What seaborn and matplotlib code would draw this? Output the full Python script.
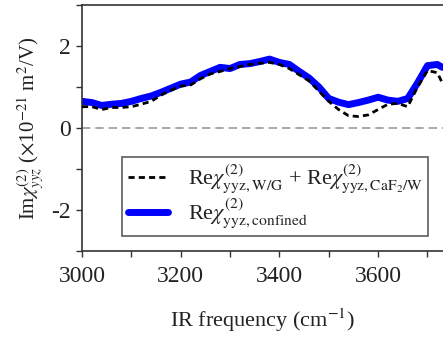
import numpy as np
import pandas as pd
import matplotlib
matplotlib.use("Agg")
import matplotlib.pyplot as plt
import seaborn as sns

# --- data ---
freq = [3000, 3020, 3040, 3060, 3080, 3100, 3120, 3140, 3160, 3180, 3200, 3220,
        3240, 3260, 3280, 3300, 3320, 3340, 3360, 3380, 3400, 3420, 3440, 3460,
        3480, 3500, 3520, 3540, 3560, 3580, 3600, 3620, 3640, 3660, 3680, 3700,
        3720, 3730]
confined = [0.65, 0.62, 0.55, 0.58, 0.60, 0.65, 0.72, 0.78, 0.87, 0.97, 1.07, 1.12,
            1.28, 1.38, 1.48, 1.45, 1.55, 1.57, 1.62, 1.68, 1.60, 1.55, 1.38, 1.22,
            1.00, 0.72, 0.63, 0.57, 0.62, 0.68, 0.75, 0.68, 0.65, 0.72, 1.10, 1.52,
            1.55, 1.48]
wg_caf2 = [0.52, 0.52, 0.45, 0.50, 0.50, 0.52, 0.58, 0.65, 0.80, 0.92, 1.02, 1.05,
           1.20, 1.32, 1.38, 1.45, 1.50, 1.55, 1.58, 1.60, 1.55, 1.45, 1.30, 1.15,
           0.90, 0.65, 0.45, 0.30, 0.28, 0.32, 0.45, 0.58, 0.60, 0.52, 1.00, 1.40,
           1.35, 1.10]

label_sum = (r"Re$\chi^{(2)}_{\mathrm{yyz,W/G}}$ + "
             r"Re$\chi^{(2)}_{\mathrm{yyz,CaF_2/W}}$")
label_conf = r"Re$\chi^{(2)}_{\mathrm{yyz,confined}}$"

df_sum = pd.DataFrame({"freq": freq, "val": wg_caf2})
df_conf = pd.DataFrame({"freq": freq, "val": confined})

sns.set_style("ticks")
plt.rcParams["font.family"] = ["Liberation Serif", "DejaVu Serif"]
plt.rcParams["mathtext.fontset"] = "stix"
plt.rcParams["axes.unicode_minus"] = False

fig = plt.figure(figsize=(4.43, 3.38), dpi=100)
ax = fig.add_axes([82 / 443, 1 - 251 / 338, 361 / 443, 246 / 338])

ax.axhline(0, color="#999999", lw=1.2, ls=(0, (5, 3)), zorder=1)

sns.lineplot(data=df_sum, x="freq", y="val", ax=ax, color="black", lw=2.0,
             ls=(0, (2.2, 1.5)), label=label_sum, zorder=3)
sns.lineplot(data=df_conf, x="freq", y="val", ax=ax, color="#0000ff", lw=5,
             solid_capstyle="round", label=label_conf, zorder=2)
for l in ax.get_lines():
    if l.get_color() == "black":
        l.set_zorder(4)

ax.set_xlim(3000, 3731.5)
ax.set_ylim(-3, 3)
ax.set_xticks([3000, 3200, 3400, 3600])
ax.set_xticks(np.arange(3100, 3800, 200), minor=True)
ax.set_yticks([-2, 0, 2])
ax.set_yticks([-3, -1, 1, 3], minor=True)

for s in ["left", "top", "bottom"]:
    ax.spines[s].set_color("#333333")
    ax.spines[s].set_linewidth(1.2)
ax.spines["right"].set_visible(False)

ax.tick_params(axis="both", which="both", direction="out", length=4.5,
               width=1.0, color="#333333", labelsize=17, labelcolor="#222222")
ax.tick_params(axis="x", pad=6)

ax.set_xlabel(r"IR frequency (cm$^{\mathrm{-1}}$)", fontsize=16, color="#222222",
              labelpad=14)
ax.set_ylabel(r"Im$\chi^{(2)}_{yyz}$ ($\times$10$^{\mathrm{-21}}$ m$^2$/V)",
              fontsize=15, color="#222222", labelpad=4)

leg = ax.legend(loc="lower left", bbox_to_anchor=(0.111, 0.061),
                borderaxespad=0, fontsize=16, frameon=True, fancybox=False,
                handlelength=1.8, handletextpad=0.9, labelspacing=0.05,
                borderpad=0.25)
leg.get_frame().set_edgecolor("#333333")
leg.get_frame().set_linewidth(1.2)
for t in leg.get_texts():
    t.set_color("#222222")

fig.savefig("out.png", dpi=100)
